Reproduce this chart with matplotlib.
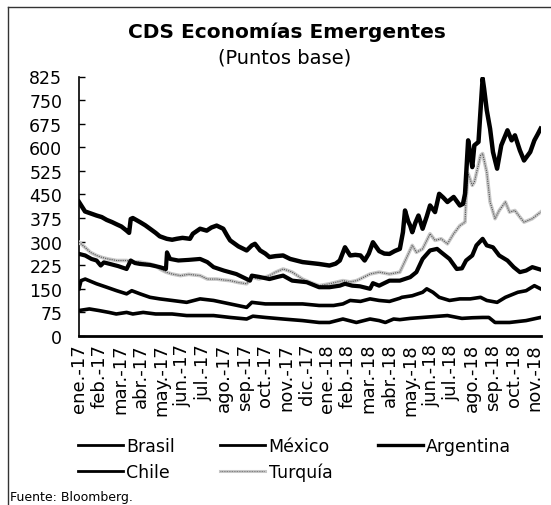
import matplotlib
matplotlib.use("Agg")
import matplotlib.pyplot as plt
from matplotlib.lines import Line2D
from matplotlib.legend_handler import HandlerTuple

plt.rcParams['font.family'] = ['DejaVu Sans']

month_labels = ["ene.-17", "feb.-17", "mar.-17", "abr.-17", "may.-17", "jun.-17",
                "jul.-17", "ago.-17", "sep.-17", "oct.-17", "nov.-17", "dic.-17",
                "ene.-18", "feb.-18", "mar.-18", "abr.-18", "may.-18", "jun.-18",
                "jul.-18", "ago.-18", "sep.-18", "oct.-18", "nov.-18"]

# positions in months since start of Jan 2017
arg_t = [0.0, 0.29, 0.55, 0.85, 1.1, 1.34, 1.6, 1.82, 2.05, 2.3, 2.42, 2.5, 2.6, 2.95,
         3.2, 3.43, 3.7, 3.9, 4.24, 4.5, 4.72, 5.0, 5.36, 5.5, 5.85, 6.17, 6.4, 6.65,
         6.97, 7.15, 7.3, 7.7, 8.1, 8.35, 8.5, 8.75, 9.0, 9.2, 9.5, 9.86, 10.2, 10.5,
         10.8, 11.2, 11.6, 12.1, 12.4, 12.6, 12.85, 13.1, 13.35, 13.6, 13.8, 14.0,
         14.2, 14.5, 14.75, 15.0, 15.25, 15.5, 15.65, 15.75, 15.9, 16.0, 16.1, 16.25,
         16.4, 16.6, 16.8, 16.96, 17.2, 17.4, 17.6, 17.8, 18.1, 18.4, 18.55, 18.65,
         18.8, 18.9, 19.0, 19.1, 19.3, 19.45, 19.5, 19.57, 19.7, 19.86, 20.0, 20.2,
         20.4, 20.7, 20.9, 21.06, 21.3, 21.5, 21.8, 22.0, 22.15, 22.3]
arg_v = [426, 396, 390, 383, 378, 369, 362, 355, 348, 335, 328, 372, 375, 362,
         352, 341, 328, 317, 309, 306, 309, 312, 309, 325, 341, 335, 345, 351,
         341, 320, 304, 285, 272, 288, 293, 272, 262, 251, 254, 256, 245, 240,
         235, 232, 229, 224, 230, 240, 282, 256, 258, 256, 240, 262,
         298, 270, 262, 261, 270, 277, 330, 399, 365, 351, 330, 360,
         383, 341, 380, 415, 394, 452, 440, 426, 442, 415, 420, 452,
         622, 580, 537, 606, 617, 770, 819, 787, 718, 659, 585, 532,
         606, 654, 622, 638, 590, 558, 585, 622, 640, 659]

tur_t = [0.0, 0.15, 0.29, 0.55, 0.85, 1.1, 1.4, 1.82, 2.3, 2.6, 2.95, 3.43, 3.7, 3.9,
         4.2, 4.5, 4.9, 5.3, 5.85, 6.2, 6.65, 7.0, 7.3, 7.7, 8.1, 8.35, 8.7, 9.2, 9.5,
         9.86, 10.1, 10.3, 10.8, 11.2, 11.6, 12.1, 12.75, 13.1, 13.4, 13.57, 14.06,
         14.5, 15.0, 15.5, 15.8, 16.1, 16.3, 16.6, 16.96, 17.2, 17.5, 17.8, 18.1,
         18.4, 18.65, 18.7, 18.8, 19.0, 19.1, 19.4, 19.5, 19.7, 19.86, 20.1, 20.3,
         20.6, 20.8, 21.06, 21.3, 21.5, 21.9, 22.3]
tur_v = [298, 290, 282, 266, 256, 250, 245, 240, 240, 236, 235, 229, 224, 213,
         203, 197, 192, 196, 192, 181, 181, 178, 176, 170, 166, 187, 181, 192, 203,
         213, 208, 203, 181, 170, 160, 166, 176, 172, 176, 181, 197,
         203, 197, 203, 245, 288, 266, 277, 325, 304, 309, 293, 325,
         351, 362, 436, 516, 479, 489, 574, 580, 521, 426, 373, 399,
         426, 394, 399, 378, 362, 373, 394]

bra_t = [0.0, 0.3, 0.6, 0.85, 1.05, 1.2, 1.5, 1.9, 2.3, 2.5, 2.7, 2.95, 3.43, 3.9,
         4.2, 4.25, 4.4, 4.8, 5.3, 5.85, 6.2, 6.5, 7.0, 7.6, 8.26, 8.35, 8.7, 9.2,
         9.6, 9.86, 10.3, 11.0, 11.6, 12.1, 12.6, 12.85, 13.2, 13.57, 14.06, 14.2,
         14.5, 15.0, 15.5, 16.0, 16.3, 16.6, 16.96, 17.3, 17.5, 17.9, 18.25, 18.5,
         18.7, 19.0, 19.2, 19.5, 19.7, 20.0, 20.3, 20.7, 21.0, 21.3, 21.6, 21.9, 22.3]
bra_v = [261, 256, 245, 240, 224, 234, 229, 222, 213, 240, 232, 229, 226, 219,
         213, 266, 245, 240, 242, 245, 235, 219, 208, 197, 176, 192, 188, 181,
         188, 192, 176, 171, 155, 155, 160, 166, 160, 158, 150, 168,
         160, 176, 176, 187, 203, 245, 272, 277, 266, 245, 213, 215,
         240, 256, 288, 309, 288, 282, 256, 240, 219, 203, 208, 219, 211]

mex_t = [0.0, 0.1, 0.3, 0.85, 1.34, 1.82, 2.3, 2.55, 2.95, 3.43, 3.9, 4.5, 5.2, 5.85,
         6.5, 7.3, 8.1, 8.35, 9.0, 10.0, 10.8, 11.6, 12.3, 12.75, 13.1, 13.6, 14.06,
         14.5, 15.0, 15.5, 15.6, 16.1, 16.6, 16.8, 17.1, 17.4, 17.9, 18.4, 18.9,
         19.4, 19.7, 20.2, 20.6, 21.2, 21.6, 22.0, 22.3]
mex_v = [150, 176, 181, 166, 155, 144, 134, 144, 134, 123, 118, 113, 107, 118,
         113, 102, 91, 107, 102, 102, 102, 97, 97, 102, 113, 110, 118,
         113, 110, 120, 123, 128, 139, 150, 139, 123, 113, 118, 118,
         123, 113, 107, 123, 139, 144, 160, 150]

chi_t = [0.0, 0.5, 0.96, 1.45, 1.8, 2.3, 2.6, 3.1, 3.7, 4.5, 5.2, 5.85, 6.5, 7.3,
         8.1, 8.4, 9.0, 9.86, 10.8, 11.6, 12.1, 12.75, 13.4, 14.06, 14.5, 14.8,
         15.2, 15.5, 16.0, 16.6, 17.2, 17.8, 18.5, 19.0, 19.5, 19.8, 20.1, 20.8,
         21.6, 22.3]
chi_v = [81, 86, 81, 75, 70, 75, 70, 75, 70, 70, 65, 65, 65, 59,
         54, 63, 59, 54, 49, 43, 43, 54, 43, 54, 49, 43,
         54, 52, 56, 59, 62, 65, 56, 58, 59, 59, 43, 43,
         49, 59]

y_ticks = list(range(0, 826, 75))

fig = plt.figure(figsize=(5.51, 5.06), dpi=100)
ax = fig.add_axes([79/551, 1 - 337/506, (541 - 79)/551, (337 - 77.5)/506])

ax.plot(arg_t, arg_v, color='black', lw=3.2, solid_joinstyle='round', zorder=5)
ax.plot(tur_t, tur_v, color='#c8c8c8', lw=2.6, zorder=3)
ax.plot(tur_t, tur_v, color='#555555', lw=0.8, ls=(0, (1, 1)), zorder=4)
ax.plot(bra_t, bra_v, color='black', lw=3.0, solid_joinstyle='round', zorder=4)
ax.plot(mex_t, mex_v, color='black', lw=2.6, solid_joinstyle='round', zorder=4)
ax.plot(chi_t, chi_v, color='black', lw=2.6, solid_joinstyle='round', zorder=4)

ax.set_xlim(0, 22.32)
ax.set_ylim(0, 825)
ax.set_yticks(y_ticks)
ax.set_xticks(range(len(month_labels)))
ax.set_xticklabels(month_labels, rotation=90, fontsize=13)
ax.tick_params(axis='y', direction='in', length=4, width=1, pad=12, labelsize=12.5)
ax.tick_params(axis='x', length=0, pad=5)
for s in ['top', 'right']:
    ax.spines[s].set_visible(False)
ax.spines['left'].set_linewidth(1.2)
ax.spines['bottom'].set_linewidth(2)

fig.text(287/551, 1 - 32/506, "CDS Economías Emergentes", ha='center', va='center',
         fontsize=14.5, fontweight='bold')
fig.text(285/551, 1 - 58/506, "(Puntos base)", ha='center', va='center', fontsize=14)

h_bra = Line2D([], [], color='black', lw=2)
h_chi = Line2D([], [], color='black', lw=2)
h_mex = Line2D([], [], color='black', lw=2)
h_arg = Line2D([], [], color='black', lw=2.4)
h_tur_bg = Line2D([], [], color='#c8c8c8', lw=2.2)
h_tur_fg = Line2D([], [], color='#666666', lw=0.6, ls=(0, (1, 1)))
handles = [h_bra, h_chi, h_mex, (h_tur_bg, h_tur_fg), h_arg]
labels = ["Brasil", "Chile", "México", "Turquía", "Argentina"]
leg = fig.legend(handles, labels, ncol=3, loc='center left',
                 bbox_to_anchor=(62/551, 1 - 460/506), frameon=False, fontsize=12.5,
                 handlelength=2.6, handletextpad=0.2, columnspacing=2.6,
                 labelspacing=0.45, handler_map={tuple: HandlerTuple(ndivide=1)})

fig.text(10/551, 1 - 498/506, "Fuente: Bloomberg.", ha='left', va='center', fontsize=9)

fig.add_artist(Line2D([8/551, 8/551], [0, 1 - 8/506], color='#333333', lw=1))
fig.add_artist(Line2D([8/551, 1], [1 - 8/506, 1 - 8/506], color='#333333', lw=1))

fig.savefig("out.png", dpi=100)
